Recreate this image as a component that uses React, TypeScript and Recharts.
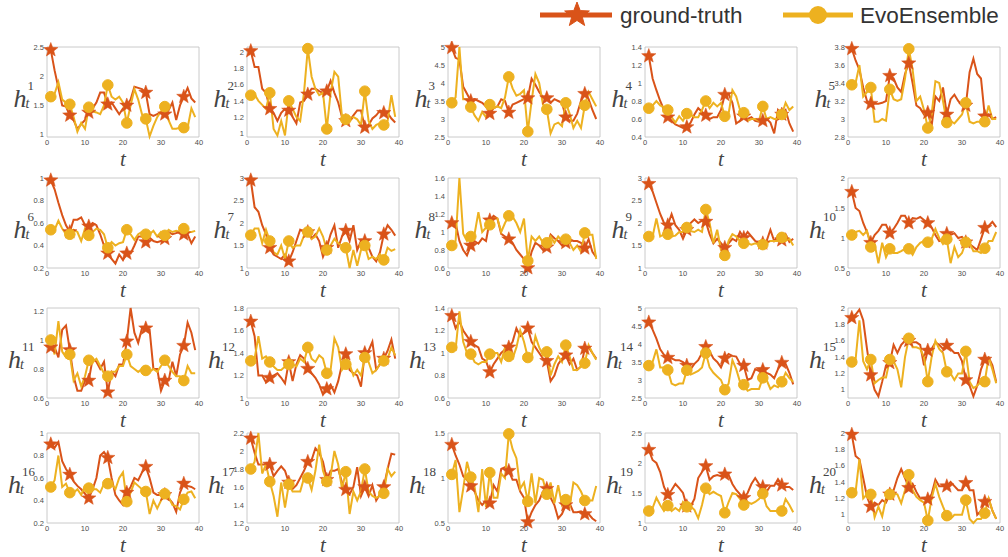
import React from 'react';
import { LineChart, Line, XAxis, YAxis, ReferenceArea } from 'recharts';

const GT_COLOR = '#D95319';
const EVO_COLOR = '#EDB120';

// time steps
const tSteps = [1, 2, 3, 4, 5, 6, 7, 8, 9, 10, 11, 12, 13, 14, 15, 16, 17, 18, 19, 20,
  21, 22, 23, 24, 25, 26, 27, 28, 29, 30, 31, 32, 33, 34, 35, 36, 37, 38, 39];
const xTicks = [0, 10, 20, 30, 40];

const gt1 = [2.45, 2.1, 1.8, 1.5, 1.48, 1.33, 1.25, 1.1, 1.18, 1.25, 1.38, 1.45, 1.55, 1.72, 1.72, 1.52, 1.55, 1.45, 1.35, 1.45, 1.5, 1.6, 1.82, 1.8, 1.78, 1.72, 1.35, 1.32, 1.35, 1.38, 1.35, 1.42, 1.55, 1.25, 1.5, 1.65, 1.8, 1.62, 1.55];
const evo1 = [1.65, 1.7, 1.9, 1.6, 1.55, 1.52, 1.3, 1.05, 1.2, 1.1, 1.47, 1.4, 1.38, 1.35, 1.5, 1.85, 1.65, 1.6, 1.65, 1.55, 1.2, 1.5, 1.78, 1.6, 1.35, 1.27, 0.97, 1.15, 1.3, 1.4, 1.48, 1.25, 1.1, 1.1, 1.12, 1.12, 1.12, 1.45, 1.3];
const gt2 = [2.02, 1.82, 1.82, 1.55, 1.5, 1.3, 1.25, 1.15, 1.25, 1.3, 1.28, 1.2, 1.12, 1.38, 1.4, 1.48, 1.55, 1.55, 1.52, 1.5, 1.52, 1.65, 1.5, 1.38, 1.2, 1.15, 1.15, 1.22, 1.28, 1.28, 1.07, 1.1, 1.18, 1.22, 1.28, 1.25, 1.25, 1.18, 1.13];
const evo2 = [1.47, 1.48, 1.4, 1.35, 1.3, 1.5, 1.05, 0.97, 1.15, 0.97, 1.4, 1.3, 1.2, 1.15, 1.5, 2.05, 1.7, 1.55, 1.47, 1.5, 1.05, 1.5, 1.76, 1.7, 1.2, 1.17, 1.15, 1.2, 1.17, 1.1, 1.52, 1.15, 1.05, 1.1, 1.12, 1.1, 1.15, 1.47, 1.2];
const gt3 = [4.98, 4.7, 4.65, 3.9, 3.7, 3.5, 3.55, 3.5, 3.45, 3.35, 3.15, 3.3, 3.35, 3.55, 3.5, 3.18, 3.4, 3.45, 3.5, 3.55, 3.58, 4.12, 3.95, 3.75, 3.6, 3.58, 3.45, 3.55, 3.5, 3.45, 3.05, 2.95, 2.95, 3.15, 3.5, 3.7, 3.55, 3.25, 3.0];
const evo3 = [3.45, 3.6, 5.0, 3.55, 3.55, 3.33, 3.1, 2.95, 3.2, 3.05, 3.4, 3.3, 3.35, 3.3, 3.6, 4.17, 3.85, 3.65, 3.7, 3.8, 2.65, 3.5, 4.25, 4.0, 3.4, 3.27, 2.6, 2.85, 2.9, 2.8, 3.45, 3.15, 2.75, 2.95, 2.75, 3.38, 3.75, 3.55, 3.35];
const gt4 = [1.3, 1.05, 0.92, 0.8, 0.7, 0.62, 0.58, 0.54, 0.52, 0.5, 0.51, 0.56, 0.65, 0.72, 0.68, 0.64, 0.6, 0.62, 0.62, 0.7, 0.87, 0.88, 0.78, 0.55, 0.58, 0.63, 0.6, 0.62, 0.58, 0.57, 0.58, 0.6, 0.56, 0.44, 0.7, 0.65, 0.7, 0.55, 0.46];
const evo4 = [0.72, 0.75, 0.8, 0.75, 0.73, 0.7, 0.62, 0.56, 0.63, 0.58, 0.66, 0.65, 0.62, 0.62, 0.7, 0.8, 0.72, 0.78, 0.74, 0.78, 0.63, 0.66, 0.92, 0.85, 0.7, 0.67, 0.58, 0.6, 0.6, 0.58, 0.74, 0.6, 0.62, 0.6, 0.6, 0.65, 0.78, 0.7, 0.74];
const gt5 = [3.78, 3.65, 3.55, 3.35, 3.2, 3.17, 3.17, 3.17, 3.18, 3.2, 3.48, 3.45, 3.35, 3.3, 3.5, 3.62, 3.4, 3.15, 3.12, 3.05, 3.07, 2.92, 3.25, 3.2, 3.35, 3.05, 3.22, 3.27, 3.2, 3.15, 3.15, 3.52, 3.67, 3.5, 3.45, 3.03, 3.05, 3.0, 3.02];
const evo5 = [3.38, 3.4, 3.6, 3.25, 3.3, 3.35, 2.97, 2.97, 3.0, 2.98, 3.33, 3.22, 3.2, 3.22, 3.45, 3.78, 3.55, 3.2, 3.25, 3.1, 2.9, 3.05, 3.42, 3.4, 3.2, 2.96, 2.98, 2.95, 3.0, 3.05, 3.18, 2.97, 2.95, 2.97, 2.97, 2.97, 3.15, 3.0, 3.0];
const gt6 = [0.98, 0.9, 0.78, 0.67, 0.58, 0.52, 0.63, 0.63, 0.65, 0.58, 0.57, 0.6, 0.58, 0.5, 0.4, 0.33, 0.28, 0.24, 0.32, 0.27, 0.33, 0.33, 0.4, 0.48, 0.48, 0.43, 0.47, 0.44, 0.43, 0.44, 0.46, 0.52, 0.5, 0.51, 0.52, 0.5, 0.5, 0.42, 0.48];
const evo6 = [0.54, 0.54, 0.62, 0.55, 0.5, 0.5, 0.54, 0.52, 0.44, 0.55, 0.49, 0.52, 0.55, 0.54, 0.5, 0.38, 0.43, 0.4, 0.42, 0.43, 0.54, 0.5, 0.45, 0.5, 0.52, 0.5, 0.5, 0.53, 0.48, 0.52, 0.49, 0.54, 0.52, 0.53, 0.52, 0.55, 0.52, 0.52, 0.53];
const gt7 = [2.95, 2.35, 2.25, 1.95, 1.75, 1.45, 1.3, 1.25, 1.2, 1.3, 1.15, 1.35, 1.6, 1.85, 1.8, 1.8, 1.65, 1.75, 1.6, 1.25, 1.45, 1.75, 1.95, 1.45, 1.7, 1.83, 1.6, 1.95, 1.4, 1.6, 1.6, 1.45, 1.25, 1.15, 1.35, 1.75, 1.95, 1.85, 1.72];
const evo7 = [1.73, 1.88, 1.88, 1.55, 1.85, 1.6, 1.35, 1.3, 1.5, 1.2, 1.6, 1.45, 1.5, 1.5, 1.72, 1.8, 1.65, 1.7, 1.88, 1.7, 1.4, 1.5, 1.65, 1.55, 1.5, 1.45, 1.0, 1.4, 1.05, 1.4, 1.5, 1.2, 1.25, 1.2, 1.3, 1.18, 1.45, 1.38, 1.42];
const gt8 = [1.1, 1.1, 0.9, 0.8, 0.74, 0.85, 0.9, 0.87, 0.93, 0.9, 1.13, 1.18, 1.15, 0.98, 0.95, 0.92, 0.88, 0.8, 0.75, 0.7, 0.6, 0.78, 0.88, 0.85, 0.8, 0.83, 0.97, 0.93, 0.9, 0.85, 0.88, 0.92, 0.9, 0.9, 0.88, 0.82, 0.92, 0.78, 0.72];
const evo8 = [0.85, 0.9, 1.6, 0.98, 0.9, 0.95, 0.98, 1.22, 1.0, 1.05, 1.08, 1.15, 1.15, 1.0, 1.1, 1.18, 1.17, 1.1, 1.0, 1.15, 0.68, 0.95, 0.9, 0.95, 0.88, 0.88, 0.95, 0.88, 0.95, 0.9, 0.92, 0.88, 0.8, 0.85, 0.78, 0.99, 0.97, 0.97, 0.7];
const gt9 = [2.87, 2.7, 2.45, 2.2, 2.0, 1.95, 2.2, 1.95, 1.85, 1.65, 1.85, 2.0, 2.08, 2.0, 2.05, 2.03, 1.75, 1.55, 1.65, 1.55, 1.45, 1.55, 1.65, 1.6, 1.8, 1.67, 1.8, 1.7, 1.6, 1.55, 1.55, 1.6, 1.85, 1.6, 1.7, 1.62, 1.75, 1.58, 1.65];
const evo9 = [1.7, 1.7, 2.1, 1.7, 1.75, 1.75, 1.7, 1.72, 1.8, 1.8, 1.9, 1.82, 1.8, 1.85, 1.8, 2.3, 2.0, 1.55, 1.85, 1.4, 1.28, 1.6, 1.75, 1.7, 1.6, 1.55, 1.55, 1.52, 1.55, 1.52, 1.52, 1.55, 1.6, 1.6, 1.6, 1.68, 1.6, 1.65, 1.5];
const gt10 = [1.77, 1.5, 1.45, 1.25, 1.1, 0.92, 1.05, 1.12, 1.22, 1.22, 1.08, 1.15, 1.25, 1.37, 1.37, 1.25, 1.33, 1.32, 1.35, 1.3, 1.25, 1.18, 1.05, 0.95, 0.97, 1.07, 1.05, 1.08, 1.0, 1.02, 0.93, 0.9, 0.85, 0.8, 0.98, 1.17, 1.2, 1.27, 1.18];
const evo10 = [1.05, 1.1, 1.12, 1.05, 1.12, 0.85, 0.9, 0.58, 0.92, 0.68, 0.82, 0.75, 0.75, 0.78, 0.82, 0.82, 0.72, 0.85, 0.92, 0.95, 0.93, 0.98, 1.15, 1.0, 0.9, 0.98, 0.58, 0.85, 0.68, 0.75, 0.93, 0.92, 0.78, 0.78, 0.75, 0.83, 0.95, 0.95, 1.1];
const gt11 = [0.95, 0.95, 0.88, 1.07, 1.1, 0.93, 0.75, 0.65, 0.65, 0.72, 0.72, 0.87, 0.85, 0.8, 0.85, 0.64, 0.78, 0.75, 0.83, 0.83, 0.99, 1.22, 1.05, 0.98, 1.08, 1.08, 1.07, 0.8, 0.8, 0.65, 0.72, 0.72, 0.85, 0.75, 0.9, 0.96, 1.12, 1.05, 0.93];
const evo11 = [1.0, 0.9, 1.13, 0.92, 0.88, 0.9, 0.72, 0.77, 0.68, 0.75, 0.86, 0.85, 0.87, 0.82, 0.77, 0.75, 0.78, 0.78, 0.82, 0.82, 0.9, 0.82, 0.8, 0.78, 0.8, 0.79, 0.78, 0.8, 0.78, 0.82, 0.86, 0.82, 0.78, 0.75, 0.75, 0.72, 0.82, 0.77, 0.77];
const gt12 = [1.68, 1.55, 1.2, 1.2, 1.14, 1.18, 1.2, 1.22, 1.18, 1.13, 1.32, 1.15, 1.3, 1.38, 1.35, 1.26, 1.22, 1.18, 1.12, 1.03, 1.08, 1.12, 1.05, 1.15, 1.3, 1.39, 1.25, 1.22, 1.2, 1.1, 1.4, 1.42, 1.5, 1.25, 1.3, 1.35, 1.42, 1.52, 1.35];
const evo12 = [1.33, 1.35, 1.55, 1.35, 1.37, 1.32, 1.28, 1.25, 1.25, 1.28, 1.3, 1.3, 1.28, 1.35, 1.32, 1.45, 1.35, 1.32, 1.38, 1.35, 1.22, 1.25, 1.53, 1.45, 1.25, 1.3, 1.3, 1.2, 1.25, 1.2, 1.36, 1.32, 1.22, 1.25, 1.3, 1.33, 1.35, 1.45, 1.38];
const gt13 = [1.33, 1.22, 1.28, 1.2, 1.15, 1.1, 1.07, 1.05, 0.95, 0.93, 0.83, 0.9, 0.95, 1.0, 1.03, 1.05, 1.1, 1.22, 1.15, 1.18, 1.22, 1.1, 1.05, 1.0, 0.95, 0.93, 0.75, 0.8, 0.9, 0.95, 0.98, 0.9, 0.95, 0.85, 0.88, 1.04, 1.05, 1.0, 0.95];
const evo13 = [1.05, 1.03, 1.37, 1.1, 1.0, 0.99, 0.92, 0.9, 0.92, 0.92, 0.99, 1.0, 1.0, 0.92, 1.05, 0.97, 0.95, 1.05, 1.2, 1.1, 0.96, 0.97, 1.15, 1.05, 0.98, 1.01, 0.8, 0.9, 0.97, 0.92, 1.07, 0.97, 0.85, 0.85, 0.88, 0.91, 1.07, 1.0, 0.94];
const gt14 = [4.6, 4.4, 4.15, 3.85, 3.7, 3.62, 3.6, 3.55, 3.55, 3.5, 3.4, 3.3, 3.45, 3.55, 3.75, 3.92, 3.8, 3.6, 3.5, 3.35, 3.6, 3.72, 3.67, 3.65, 3.45, 3.4, 3.0, 3.05, 3.3, 3.25, 3.28, 3.2, 3.15, 3.05, 3.3, 3.48, 3.45, 3.2, 2.88];
const evo14 = [3.4, 3.5, 3.85, 3.35, 3.35, 3.28, 2.9, 2.85, 2.9, 2.9, 3.27, 3.15, 3.2, 3.25, 3.35, 3.75, 3.35, 3.2, 3.1, 3.0, 2.73, 2.9, 3.55, 3.3, 2.95, 2.87, 2.7, 2.75, 2.75, 2.75, 3.06, 3.0, 2.75, 2.85, 2.8, 2.95, 3.2, 3.05, 2.95];
const gt15 = [1.88, 1.92, 1.98, 1.85, 1.5, 1.18, 1.0, 0.92, 1.1, 1.3, 1.33, 1.55, 1.45, 1.55, 1.6, 1.6, 1.58, 1.58, 1.55, 1.3, 1.48, 1.5, 1.58, 1.55, 1.5, 1.54, 1.5, 1.45, 1.45, 1.35, 1.12, 1.05, 0.92, 1.05, 1.25, 1.37, 1.4, 1.3, 1.1];
const evo15 = [1.34, 1.37, 1.85, 1.35, 1.25, 1.37, 1.08, 1.12, 1.15, 1.15, 1.37, 1.35, 1.25, 1.03, 1.4, 1.63, 1.52, 1.52, 1.5, 1.4, 1.1, 1.4, 1.6, 1.5, 1.45, 1.22, 1.2, 1.12, 1.2, 1.2, 1.47, 1.1, 1.02, 1.05, 1.1, 1.1, 1.4, 1.25, 1.08];
const gt16 = [0.9, 0.87, 0.92, 0.75, 0.68, 0.63, 0.57, 0.53, 0.5, 0.46, 0.42, 0.5, 0.6, 0.8, 0.83, 0.78, 0.6, 0.45, 0.4, 0.36, 0.47, 0.52, 0.6, 0.58, 0.65, 0.7, 0.6, 0.47, 0.45, 0.45, 0.45, 0.42, 0.38, 0.3, 0.47, 0.55, 0.53, 0.52, 0.5];
const evo16 = [0.52, 0.58, 0.8, 0.52, 0.55, 0.47, 0.47, 0.5, 0.45, 0.53, 0.51, 0.5, 0.5, 0.47, 0.55, 0.55, 0.55, 0.5, 0.6, 0.65, 0.39, 0.47, 0.56, 0.53, 0.5, 0.48, 0.28, 0.4, 0.33, 0.4, 0.46, 0.43, 0.36, 0.35, 0.32, 0.41, 0.47, 0.48, 0.42];
const gt17 = [2.14, 1.98, 1.85, 1.85, 1.85, 1.85, 1.72, 1.78, 1.83, 1.78, 1.65, 1.58, 1.62, 1.7, 1.78, 1.88, 1.9, 2.03, 1.98, 1.88, 1.68, 1.78, 1.78, 1.8, 1.65, 1.57, 1.52, 1.6, 1.82, 1.5, 1.6, 1.5, 1.62, 1.45, 1.52, 1.6, 1.8, 1.97, 1.96];
const evo17 = [1.8, 1.88, 2.2, 1.75, 1.85, 1.66, 1.5, 1.27, 1.65, 1.37, 1.63, 1.55, 1.55, 1.55, 1.7, 1.7, 1.57, 1.78, 2.07, 1.78, 1.66, 1.72, 2.0, 1.85, 1.58, 1.77, 1.3, 1.55, 1.45, 1.55, 1.8, 1.55, 1.5, 1.48, 1.5, 1.53, 1.8, 1.72, 1.77];
const gt18 = [1.37, 1.25, 1.15, 1.02, 0.98, 0.91, 0.85, 0.75, 0.7, 0.75, 0.72, 0.92, 0.85, 1.1, 1.12, 1.08, 0.98, 0.98, 0.85, 0.78, 0.51, 0.62, 0.7, 0.75, 0.85, 0.88, 0.78, 0.7, 0.55, 0.6, 0.7, 0.72, 0.62, 0.62, 0.63, 0.6, 0.6, 0.55, 0.52];
const evo18 = [1.04, 1.2, 0.62, 0.88, 1.18, 1.01, 0.9, 0.62, 1.1, 0.68, 1.06, 0.78, 0.78, 1.05, 1.0, 1.49, 1.32, 1.22, 0.88, 0.95, 0.74, 1.05, 0.72, 1.0, 0.98, 0.82, 0.95, 0.72, 0.92, 0.7, 0.76, 0.68, 0.95, 0.92, 0.85, 0.75, 0.75, 0.75, 0.91];
const gt19 = [2.22, 2.05, 2.0, 1.85, 1.6, 1.47, 1.55, 1.65, 1.58, 1.5, 1.28, 1.28, 1.4, 1.75, 1.85, 1.95, 1.72, 1.78, 1.8, 1.78, 1.81, 1.8, 1.65, 1.55, 1.48, 1.42, 1.5, 1.65, 1.75, 1.65, 1.6, 1.52, 1.62, 1.62, 1.73, 1.63, 1.6, 1.6, 1.55];
const evo19 = [1.2, 1.25, 1.42, 1.3, 1.2, 1.29, 1.2, 1.25, 1.2, 1.35, 1.27, 1.28, 1.22, 1.08, 1.3, 1.58, 1.48, 1.52, 1.48, 1.45, 1.17, 1.35, 1.5, 1.48, 1.4, 1.3, 1.35, 1.32, 1.35, 1.4, 1.49, 1.28, 1.2, 1.2, 1.2, 1.2, 1.4, 1.3, 1.18];
const gt20 = [1.98, 1.72, 1.68, 1.45, 1.22, 1.1, 1.15, 1.12, 1.18, 1.15, 1.25, 1.3, 1.45, 1.56, 1.45, 1.33, 1.38, 1.28, 1.2, 1.2, 1.19, 1.25, 1.43, 1.35, 1.35, 1.35, 1.4, 1.35, 1.3, 1.3, 1.39, 1.3, 1.3, 1.0, 1.05, 1.16, 1.2, 1.05, 0.95];
const evo20 = [1.27, 1.28, 1.68, 1.2, 1.25, 1.25, 0.97, 1.1, 0.98, 1.2, 1.25, 1.26, 1.25, 1.14, 1.3, 1.49, 1.3, 1.22, 1.18, 1.15, 0.93, 1.2, 1.38, 1.22, 1.1, 0.99, 0.95, 1.0, 1.0, 1.0, 1.18, 0.95, 0.9, 0.95, 0.95, 1.02, 1.2, 1.05, 0.95];

const gtSeries = [gt1, gt2, gt3, gt4, gt5, gt6, gt7, gt8, gt9, gt10, gt11, gt12, gt13, gt14, gt15, gt16, gt17, gt18, gt19, gt20];
const evoSeries = [evo1, evo2, evo3, evo4, evo5, evo6, evo7, evo8, evo9, evo10, evo11, evo12, evo13, evo14, evo15, evo16, evo17, evo18, evo19, evo20];

// y tick labels of each panel
const yTicks = [
  [1, 1.5, 2, 2.5], [1, 1.2, 1.4, 1.6, 1.8, 2], [2.5, 3, 3.5, 4, 4.5, 5], [0.4, 0.6, 0.8, 1, 1.2, 1.4], [2.8, 3, 3.2, 3.4, 3.6, 3.8],
  [0.2, 0.4, 0.6, 0.8, 1], [1, 1.5, 2, 2.5, 3], [0.6, 0.8, 1, 1.2, 1.4, 1.6], [1, 1.5, 2, 2.5, 3], [0.5, 1, 1.5, 2],
  [0.6, 0.8, 1, 1.2], [1, 1.2, 1.4, 1.6, 1.8], [0.6, 0.8, 1, 1.2, 1.4], [2.5, 3, 3.5, 4, 4.5, 5], [1, 1.2, 1.4, 1.6, 1.8, 2],
  [0.2, 0.4, 0.6, 0.8, 1], [1.2, 1.4, 1.6, 1.8, 2, 2.2], [0.5, 1, 1.5], [1, 1.5, 2, 2.5], [1, 1.2, 1.4, 1.6, 1.8, 2],
];
const yDomains = [
  [0.96, 2.5], [0.95, 2.07], [2.5, 5], [0.4, 1.4], [2.8, 3.8],
  [0.2, 1], [1, 3], [0.6, 1.6], [1, 3], [0.5, 2],
  [0.6, 1.22], [1, 1.8], [0.6, 1.4], [2.5, 5], [0.9, 2],
  [0.2, 1], [1.2, 2.2], [0.5, 1.5], [1, 2.5], [0.9, 2],
];

const colLeft = [47, 247, 448, 645, 848];
const rowTop = [47, 178, 308, 433];
const PLOT_W = 152;
const PLOT_H = 90;
const AXIS_W = 32;
const PAD = 6;
const CHART_W = AXIS_W + PLOT_W + PAD;
const CHART_H = PAD + PLOT_H + 16;

const serif = '"Liberation Serif", "DejaVu Serif", serif';
const sans = '"Liberation Sans", Arial, sans-serif';

const starPoints = (cx: number, cy: number, R: number) => {
  const r = R * 0.42;
  const pts: string[] = [];
  for (let k = 0; k < 10; k++) {
    const rad = k % 2 === 0 ? R : r;
    const a = -Math.PI / 2 + (k * Math.PI) / 5;
    pts.push(`${cx + rad * Math.cos(a)},${cy + rad * Math.sin(a)}`);
  }
  return pts.join(' ');
};

const StarDot = (props: any) => {
  const { cx, cy, index } = props;
  if (index % 5 !== 0 || cx == null || cy == null) return <g key={`s${index}`} />;
  return <polygon key={`s${index}`} points={starPoints(cx, cy, 7.5)} fill={GT_COLOR} stroke={GT_COLOR} strokeWidth={0.5} />;
};

const CircleDot = (props: any) => {
  const { cx, cy, index } = props;
  if (index % 5 !== 0 || cx == null || cy == null) return <g key={`c${index}`} />;
  return <circle key={`c${index}`} cx={cx} cy={cy} r={5.3} fill={EVO_COLOR} stroke={EVO_COLOR} />;
};

const tickStyle = { fontSize: 7.5, fill: '#4d4d4d', fontFamily: sans };

const Panel = ({ idx }: { idx: number }) => {
  const gt = gtSeries[idx];
  const evo = evoSeries[idx];
  const domain = yDomains[idx];
  const data = tSteps.map((t, i) => ({ t, gt: gt[i], evo: evo[i] }));
  const left = colLeft[idx % 5] - AXIS_W;
  const top = rowTop[Math.floor(idx / 5)] - PAD;
  const label = String(idx + 1);
  const xs = 18 - label.length * 5.5;
  return (
    <div style={{ position: 'absolute', left, top, width: CHART_W, height: CHART_H }}>
      <LineChart width={CHART_W} height={CHART_H} data={data} margin={{ top: PAD, right: PAD, left: 0, bottom: 0 }}>
        <XAxis dataKey="t" type="number" domain={[0, 40]} ticks={xTicks} height={16} axisLine={false} tickLine={false} tickSize={0} tick={tickStyle} tickMargin={3} />
        <YAxis type="number" domain={domain} ticks={yTicks[idx]} width={AXIS_W} axisLine={false} tickLine={false} tickSize={0} tick={tickStyle} tickMargin={3} />
        <ReferenceArea x1={0} x2={40} y1={domain[0]} y2={domain[1]} fill="none" stroke="#bdbdbd" strokeWidth={0.8} ifOverflow="visible" />
        <Line dataKey="gt" stroke={GT_COLOR} strokeWidth={2} dot={StarDot} activeDot={false} isAnimationActive={false} />
        <Line dataKey="evo" stroke={EVO_COLOR} strokeWidth={2} dot={CircleDot} activeDot={false} isAnimationActive={false} />
      </LineChart>
      <svg style={{ position: 'absolute', left: -30, top: 0, overflow: 'visible', pointerEvents: 'none' }} width={CHART_W + 30} height={CHART_H + 30}>
        <text x={30 + xs - 1} y={66} textAnchor="end" fontFamily={serif} fontStyle="italic" fontSize={26} fill="#444">h</text>
        <text x={30 + xs} y={49} fontFamily={serif} fontSize={13} fill="#444">{label}</text>
        <text x={30 + xs - 2} y={67} fontFamily={serif} fontStyle="italic" fontSize={14} fill="#444">t</text>
        <text x={30 + AXIS_W + PLOT_W / 2} y={PAD + PLOT_H + 29} textAnchor="middle" fontFamily={serif} fontStyle="italic" fontSize={21} fill="#444">t</text>
      </svg>
    </div>
  );
};

const Legend = () => (
  <svg style={{ position: 'absolute', left: 0, top: 0 }} width={1008} height={34}>
    <line x1={540} y1={15} x2={612} y2={15} stroke={GT_COLOR} strokeWidth={5} />
    <polygon points={starPoints(577, 15, 13)} fill={GT_COLOR} stroke={GT_COLOR} />
    <text x={620} y={23} fontFamily={sans} fontSize={22.5} fill="#333">ground-truth</text>
    <line x1={783} y1={15} x2={853} y2={15} stroke={EVO_COLOR} strokeWidth={5} />
    <circle cx={818} cy={15} r={9} fill={EVO_COLOR} />
    <text x={860} y={23} fontFamily={sans} fontSize={22.5} fill="#333">EvoEnsemble</text>
  </svg>
);

export default function App() {
  return (
    <div style={{ position: 'absolute', left: 0, top: 0, width: 1008, height: 557, background: '#fff', overflow: 'hidden' }}>
      <Legend />
      {gtSeries.map((_, i) => (
        <Panel key={i} idx={i} />
      ))}
    </div>
  );
}
